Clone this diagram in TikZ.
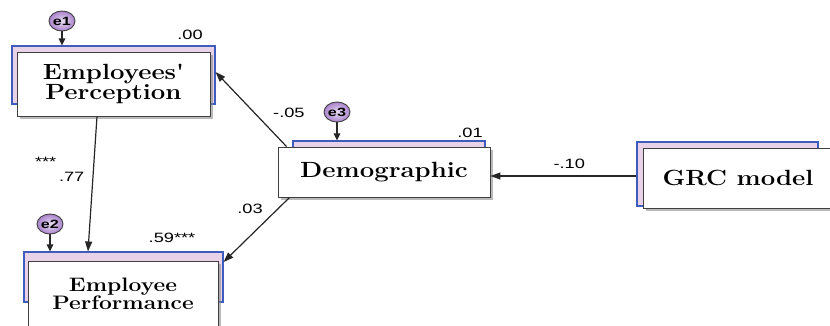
\documentclass[tikz,border=0pt]{standalone}
\usepackage{fontspec}
\usetikzlibrary{arrows.meta,shapes.geometric,shadows,positioning}
\newfontfamily\boxfont[FakeStretch=1.17]{Latin Modern Roman}
\newfontfamily\numfont[FakeStretch=1.35]{Liberation Sans}
\definecolor{amosblue}{RGB}{62,92,190}
\definecolor{amospink}{RGB}{232,210,232}
\definecolor{amospurple}{RGB}{170,130,205}

\begin{document}
\begin{tikzpicture}[x=1pt,y=-1pt,
    back/.style={draw=amosblue,fill=amospink,line width=1.1pt},
    front/.style={draw=black!75,fill=white,line width=0.9pt,align=center,
      font=\boxfont\bfseries\fontsize{22}{19}\selectfont,
      drop shadow={shadow xshift=2.5pt,shadow yshift=-2.5pt,fill=black!45,opacity=0.6}},
    err/.style={ellipse,draw=black!75,line width=0.9pt,inner color=amospurple!25,outer color=amospurple,
      minimum width=26pt,minimum height=20pt,inner sep=0pt,font=\numfont\bfseries\fontsize{12}{12}\selectfont},
    num/.style={font=\numfont\fontsize{13.5}{14}\selectfont,inner sep=1pt},
    link/.style={draw=black!85,line width=1.2pt,-{Triangle[length=10pt,width=7pt]}},
    errlink/.style={draw=black!85,line width=1.4pt,-{Triangle[length=7pt,width=6.5pt]}}]
\useasboundingbox (0,0) rectangle (830,325);

% Back panels
\node[back,minimum width=203pt,minimum height=58pt] (percB) at (113.5,75) {};
\node[back,minimum width=199pt,minimum height=50pt] (perfB) at (123.5,277) {};
\node[back,minimum width=192pt,minimum height=50pt] (demogB) at (389,166) {};
\node[back,minimum width=181pt,minimum height=64pt] (grcB) at (727.5,174) {};

% Observed variables
\node[front,minimum width=193pt,minimum height=64pt] (perc) at (113.5,84) {Employees'\\Perception};
\node[front,minimum width=190pt,minimum height=66pt,font=\boxfont\bfseries\fontsize{19.5}{18}\selectfont] (perf) at (123,294) {Employee\\Performance};
\node[front,minimum width=212pt,minimum height=50pt] (demog) at (384,172) {Demographic};
\node[front,minimum width=190pt,minimum height=60pt] (grc) at (738,178) {GRC model};

% Error terms
\node[err] (e1) at (62,21) {e1};
\node[err] (e2) at (50,224) {e2};
\node[err] (e3) at (337,112) {e3};
\draw[errlink] (e1) -- (e1 |- percB.north);
\draw[errlink] (e2) -- (e2 |- perfB.north);
\draw[errlink] (e3) -- (e3 |- demogB.north);

% Squared multiple correlations
\node[num] (r1) at (190,35) {.00};
\node[num] (r2) at (172,238) {.59***};
\node[num] (r3) at (470,133) {.01};

% Paths
\draw[link] ([xshift=-16.5pt]perc.south) -- node[num,pos=0.45,left=7pt] (l77) {.77}
  node[num,pos=0.34,left=36pt] (s77) {***} ([xshift=-35.5pt]perfB.north);
\draw[link] ([xshift=9pt]demog.north west) -- node[num,pos=0.45,right=17pt] (l05) {-.05} ([yshift=3pt]percB.east);
\draw[link] ([yshift=-2pt]grcB.west) -- node[num,pos=0.46,above=6pt] (l10) {-.10} ([yshift=-4pt]demog.east);
\draw[link] ([xshift=12pt]demog.south west) -- node[num,pos=0.17,left=14pt] (l03) {.03} ([yshift=15pt]perfB.east);
\end{tikzpicture}
\end{document}
